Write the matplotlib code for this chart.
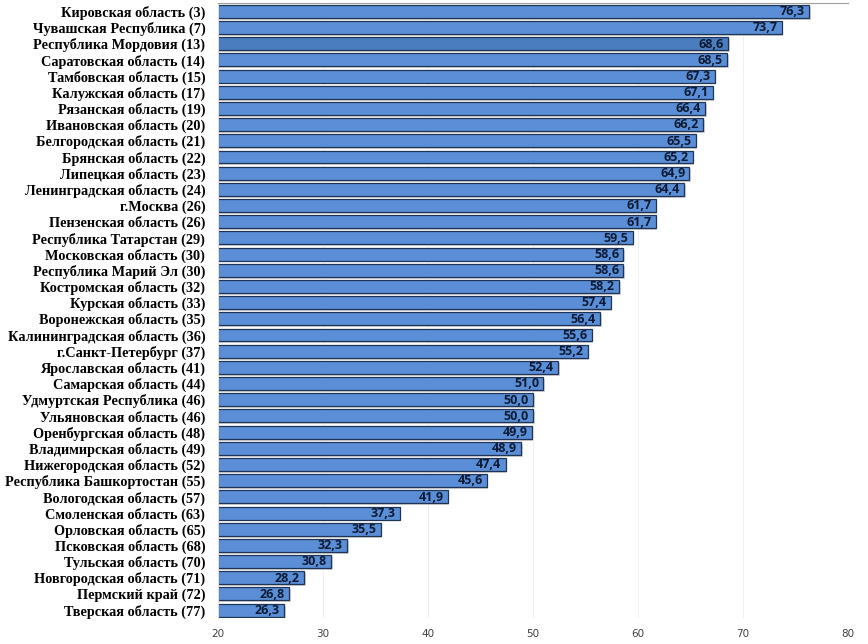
import matplotlib.pyplot as plt

regions = [
    'Кировская область (3)', 'Чувашская Республика (7)', 'Республика Мордовия (13)',
    'Саратовская область (14)', 'Тамбовская область (15)', 'Калужская область (17)',
    'Рязанская область (19)', 'Ивановская область (20)', 'Белгородская область (21)',
    'Брянская область (22)', 'Липецкая область (23)', 'Ленинградская область (24)',
    'г.Москва (26)', 'Пензенская область (26)', 'Республика Татарстан (29)',
    'Московская область (30)', 'Республика Марий Эл (30)', 'Костромская область (32)',
    'Курская область (33)', 'Воронежская область (35)', 'Калининградская область (36)',
    'г.Санкт-Петербург (37)', 'Ярославская область (41)', 'Самарская область (44)',
    'Удмуртская Республика (46)', 'Ульяновская область (46)', 'Оренбургская область (48)',
    'Владимирская область (49)', 'Нижегородская область (52)', 'Республика Башкортостан (55)',
    'Вологодская область (57)', 'Смоленская область (63)', 'Орловская область (65)',
    'Псковская область (68)', 'Тульская область (70)', 'Новгородская область (71)',
    'Пермский край (72)', 'Тверская область (77)',
]
values = [
    76.3, 73.7, 68.6, 68.5, 67.3, 67.1, 66.4, 66.2, 65.5, 65.2, 64.9, 64.4,
    61.7, 61.7, 59.5, 58.6, 58.6, 58.2, 57.4, 56.4, 55.6, 55.2, 52.4, 51.0,
    50.0, 50.0, 49.9, 48.9, 47.4, 45.6, 41.9, 37.3, 35.5, 32.3, 30.8, 28.2,
    26.8, 26.3,
]
highlight = 'Республика Мордовия (13)'
x_ticks = [20, 30, 40, 50, 60, 70, 80]

base = 20
fig = plt.figure(figsize=(8.68, 6.44), dpi=100)
ax = fig.add_axes([0.251, 0.04, 0.726, 0.955])

n = len(regions)
pos = list(range(n))
widths = [v - base for v in values]
colors = ['#4a7dc0' if r == highlight else '#5a8fd8' for r in regions]

# shadow under each bar
ax.barh([p + 0.12 for p in pos], [w + 0.15 for w in widths], left=base, height=0.8,
        color='#d4d4d4', edgecolor='none', zorder=1)
ax.barh(pos, widths, left=base, height=0.8, color=colors,
        edgecolor='#1f3355', linewidth=0.9, zorder=2)

for p, v in zip(pos, values):
    ax.text(v - 0.4, p + 0.02, f'{v:.1f}'.replace('.', ','), ha='right', va='center',
            fontsize=9, fontweight='bold', color='#0d1a33', family='Open Sans',
            zorder=3)

ax.set_xlim(20, 80)
ax.set_ylim(n - 0.5, -0.5)
ax.set_yticks(pos)
ax.set_yticklabels(regions, family='Liberation Serif', fontweight='bold', fontsize=10.3)
ax.set_xticks(x_ticks)
ax.set_xticklabels([str(t) for t in x_ticks], fontsize=7.5, color='#404040')
ax.tick_params(axis='both', length=0)
ax.tick_params(axis='x', pad=8)
ax.tick_params(axis='y', pad=9)
ax.xaxis.grid(True, color='#f0f0f0', linewidth=0.8, zorder=0)
ax.set_axisbelow(True)

for s in ['right', 'bottom']:
    ax.spines[s].set_visible(False)
ax.spines['top'].set_color('#a0a0a0')
ax.spines['left'].set_color('#e0e0e0')

fig.savefig('out.png', dpi=100)
